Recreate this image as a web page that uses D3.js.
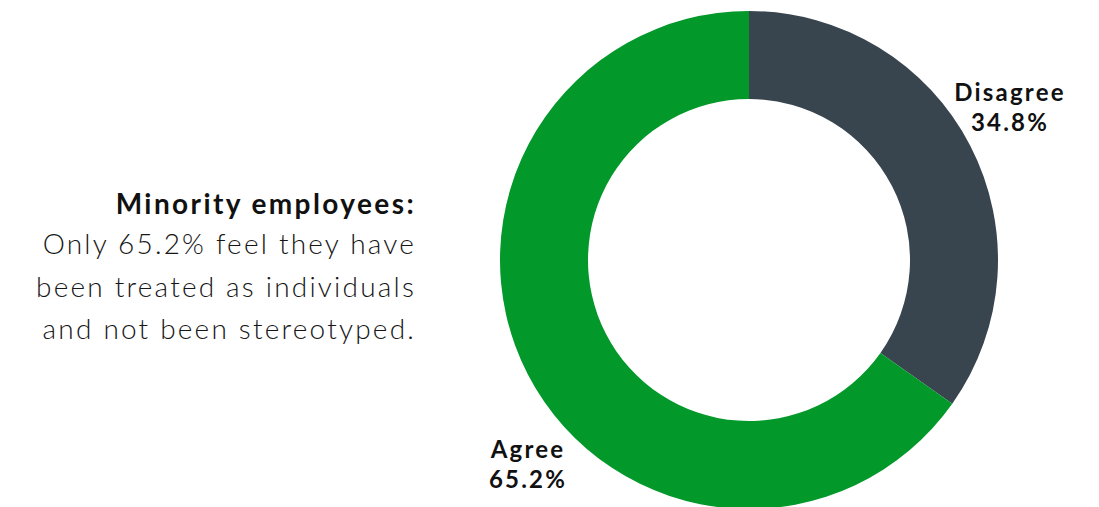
<!DOCTYPE html>
<html>
<head>
<meta charset="utf-8">
<script src="https://cdn.jsdelivr.net/npm/d3@7"></script>
<style>
  html, body { margin: 0; padding: 0; background: #fff; }
  svg { display: block; }
</style>
</head>
<body>
<svg id="chart" width="1099" height="507"></svg>
<script>
// Survey response shares
const categories = ["Disagree", "Agree"];
const values = [34.8, 65.2];
const colors = ["#38454f", "#02992a"];

const headline = "Minority employees:";
const bodyLines = [
  "Only 65.2% feel they have",
  "been treated as individuals",
  "and not been stereotyped."
];

const W = 1099, H = 507;
const cx = 749, cy = 260;
const rOuter = 249, rInner = 161;
const FONT = "Lato, sans-serif";

const svg = d3.select("#chart");

const pie = d3.pie().sort(null).value(d => d.value);
const arcs = pie(categories.map((c, i) => ({ name: c, value: values[i], color: colors[i] })));
const arc = d3.arc().innerRadius(rInner).outerRadius(rOuter);

const g = svg.append("g").attr("transform", `translate(${cx},${cy})`);
g.selectAll("path.slice")
  .data(arcs)
  .join("path")
  .attr("class", "slice")
  .attr("d", arc)
  .attr("fill", d => d.data.color);

// Label anchors relative to the ring centre (first-line baseline)
const labelPos = { Disagree: [261, -159], Agree: [-221, 198] };
g.selectAll("text.lbl")
  .data(arcs)
  .join("text")
  .attr("class", "lbl")
  .attr("text-anchor", "middle")
  .attr("font-family", FONT)
  .attr("font-weight", 700)
  .attr("font-size", 24)
  .attr("letter-spacing", 2.2)
  .attr("fill", "#111")
  .each(function(d) {
    const [x, y] = labelPos[d.data.name];
    const t = d3.select(this);
    t.append("tspan").attr("x", x).attr("y", y).text(d.data.name);
    t.append("tspan").attr("x", x).attr("dy", 30).text(d3.format(".1f")(d.data.value) + "%");
  });

// Caption block, right-aligned left of the ring
const cap = svg.append("text")
  .attr("text-anchor", "end")
  .attr("font-family", FONT)
  .attr("fill", "#161616");
cap.append("tspan")
  .attr("x", 416).attr("y", 214)
  .attr("font-weight", 700).attr("font-size", 28).attr("letter-spacing", 2.4).attr("fill", "#111")
  .text(headline);
bodyLines.forEach((line, i) => {
  cap.append("tspan")
    .attr("x", 416).attr("y", 254 + i * 42.5)
    .attr("font-weight", 300).attr("font-size", 28).attr("letter-spacing", 2.2)
    .text(line);
});
</script>
</body>
</html>
